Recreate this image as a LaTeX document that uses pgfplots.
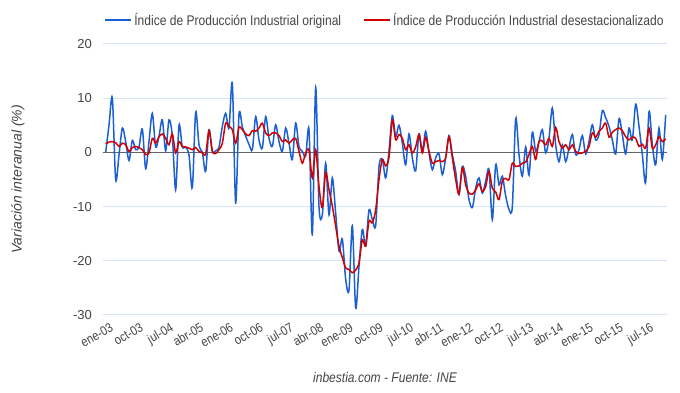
\documentclass[border=0pt]{standalone}
\usepackage{fontspec}
\setmainfont{Liberation Sans}
\newfontfamily\narrowfont[FakeStretch=0.86]{Liberation Sans}
\usepackage{pgfplots}
\usepackage{pgfplotstable}
\pgfplotsset{compat=1.18}
\definecolor{ipiblue}{RGB}{28,95,210}
\definecolor{ipired}{RGB}{210,0,0}
\definecolor{gridc}{RGB}{214,228,247}
\definecolor{txt}{RGB}{68,68,68}
\definecolor{zeroc}{RGB}{100,100,100}

\pgfplotstableread{
i orig sa
0 0 1.6
1 5 1.9
2 10 2.0
3 -5 1.8
4 -0.5 1.1
5 4.5 1.7
6 2 1.4
7 -1.5 0.2
8 2.2 0.9
9 0.5 1.1
10 1.0 0.9
11 4.3 0.5
12 -3 -0.4
13 2 -0.1
14 7.2 2.6
15 1 1.7
16 3 2.9
17 6 3.4
18 0.3 2.6
19 6 1.4
20 3 3.4
21 -6.9 -0.1
22 5 2.0
23 1 1.1
24 1 1.0
25 -0.5 0.8
26 -6.5 0.5
27 7.4 0.9
28 1.4 0.2
29 0 -0.1
30 -3.5 -0.3
31 4.2 4.0
32 0.2 0.2
33 0.3 -0.2
34 1 0.5
35 4.8 1.7
36 7.2 5.4
37 4.5 4.8
38 12.7 4.2
39 -9.3 1.7
40 7 4.6
41 4.7 4.2
42 3 3.4
43 1.5 3.1
44 0.5 4.0
45 6.6 3.9
46 2.3 4.5
47 0.8 5.4
48 6.6 3.6
49 2.6 3.1
50 1.1 3.6
51 5.1 3.6
52 2.0 3.1
53 0.2 2.0
54 4.5 2.3
55 1.7 1.7
56 -1.3 2.3
57 5.4 2.6
58 1.1 0.2
59 0.2 -2.0
60 -0.7 -0.1
61 4.2 0.4
62 -15.2 -4.7
63 12.0 0.5
64 -10 -6.3
65 -11.5 -10.2
66 -2.0 -3.7
67 -11.5 -6.9
68 -4.7 -9.9
69 -11.2 -13.6
70 -18.2 -17.3
71 -16 -19.4
72 -23.4 -21.3
73 -25.4 -21.6
74 -13.5 -22.2
75 -28.7 -21.7
76 -21 -20.4
77 -14.2 -16.1
78 -17.3 -17.3
79 -10.6 -12.7
80 -12.4 -13.0
81 -13.5 -10.6
82 -2.6 -5.0
83 -1.3 -1.3
84 -4.7 -2.5
85 0.3 -0.9
86 6.8 6.0
87 2.9 2.3
88 5.0 3.3
89 1.7 2.6
90 -2.3 0.5
91 3.4 1.4
92 -1.0 -0.1
93 -3.4 1.0
94 3.4 3.3
95 0.2 -0.1
96 3.9 2.8
97 -0.1 0.2
98 -3.2 -2.0
99 -1.0 -1.7
100 -0.3 -1.5
101 -4.1 -1.7
102 -1.0 -1.0
103 3.1 2.9
104 -0.4 -1.0
105 -3.5 -5.0
106 -7.8 -7.7
107 -2.6 -2.8
108 -4.4 -6.0
109 -8.7 -7.5
110 -10.2 -7.7
111 -6.6 -6.9
112 -4.7 -5.8
113 -7.5 -7.2
114 -5.3 -6.3
115 -3.2 -3.5
116 -12.4 -6.6
117 -2.3 -7.3
118 -6.0 -8.7
119 -4.4 -5.3
120 -8 -4.8
121 -10.5 -5.0
122 -10 -2.0
123 6.2 -2.6
124 -0.4 -2.5
125 -4.4 -2.0
126 1.0 -1.8
127 -4.2 -0.4
128 3.7 1.1
129 0.2 -1.3
130 2.0 2.0
131 4.2 2.1
132 -0.1 1.4
133 2.6 2.6
134 8.2 1.1
135 1.4 4.6
136 -1.7 2.0
137 1.4 0.8
138 -1.7 1.4
139 0.8 0.5
140 3.3 1.4
141 -0.4 0.2
142 0.5 -0.2
143 3.1 -0.1
144 -0.3 0.2
145 2.0 1.1
146 5.1 3.6
147 2.3 2.8
148 3.3 3.9
149 7.7 4.5
150 6.4 5.4
151 4.8 2.8
152 2.3 3.7
153 -0.3 4.2
154 6.2 4.5
155 3.3 4.0
156 -0.3 2.9
157 4.5 2.3
158 2.3 2.8
159 8.9 2.6
160 4.8 1.1
161 -0.4 1.5
162 -5.5 0.8
163 7.5 4.5
164 1.4 0.8
165 -2.3 1.4
166 4.5 2.9
167 -1.3 2.0
168 6.9 2.5
}\ipidata

\begin{document}
\begin{tikzpicture}
\path[use as bounding box] (-103pt,-78pt) rectangle (577pt,315pt);
\begin{axis}[
  scale only axis, width=564pt, height=271pt,
  at={(0pt,0pt)}, anchor=south west,
  xmin=-0.8, xmax=168.4, ymin=-30, ymax=20,
  axis line style={draw=none},
  tick style={draw=none},
  ytick={-30,-20,-10,0,10,20},
  xtick={0,9,...,162},
  xticklabels={ene-03,oct-03,jul-04,abr-05,ene-06,oct-06,jul-07,abr-08,ene-09,oct-09,jul-10,abr-11,ene-12,oct-12,jul-13,abr-14,ene-15,oct-15,jul-16},
  ymajorgrids, grid style={gridc, line width=1pt},
  yticklabel style={txt, font=\fontsize{13}{13}\selectfont, anchor=east, inner sep=0pt, xshift=-11pt},
  xticklabel style={txt, font=\narrowfont\fontsize{13}{13}\selectfont, rotate=30, anchor=north east, inner sep=0pt, yshift=-8pt},
  /pgf/number format/assume math mode=true,
  legend columns=2,
  legend style={at={(0.5,1)}, anchor=center, yshift=24pt, draw=none, fill=none,
    font=\narrowfont\fontsize{14}{14}\selectfont, text=txt,
    /tikz/every even column/.append style={column sep=20pt}},
  legend image code/.code={\draw[#1, line width=2pt] (0pt,0pt) -- (26pt,0pt);},
  legend cell align=left,
]
\addplot[zeroc, line width=0.8pt, forget plot] coordinates {(-0.8,0) (168.4,0)};
\addplot[ipiblue, line width=1.5pt, smooth, tension=0.5] table[x=i, y=orig] {\ipidata};
\addlegendentry{Índice de Producción Industrial original}
\addplot[ipired, line width=1.5pt, smooth, tension=0.5] table[x=i, y=sa] {\ipidata};
\addlegendentry{Índice de Producción Industrial desestacionalizado}
\end{axis}
\node[txt, font=\narrowfont\itshape\fontsize{14}{14}\selectfont] at (282pt,-62pt) {inbestia.com - Fuente: INE};
\node[txt, rotate=90, font=\itshape\fontsize{14}{14}\selectfont] at (-85pt,135.5pt) {Variación interanual (\%)};
\end{tikzpicture}
\end{document}
